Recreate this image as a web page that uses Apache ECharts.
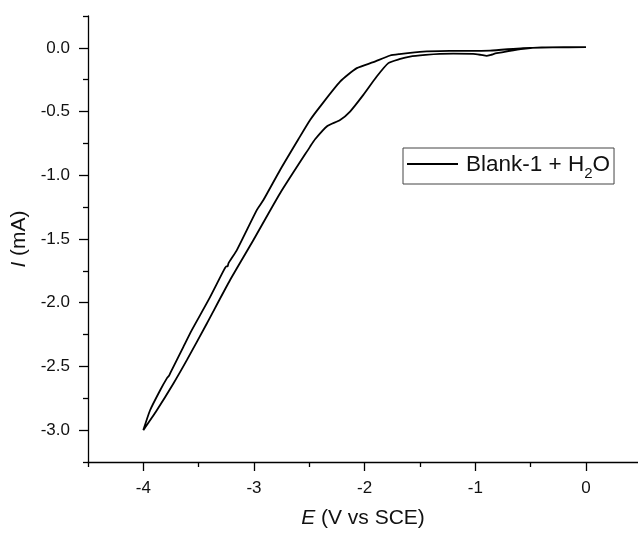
<!DOCTYPE html>
<html>
<head>
<meta charset="utf-8">
<script src="https://cdn.jsdelivr.net/npm/echarts@6/dist/echarts.min.js"></script>
<style>
  html, body { margin: 0; padding: 0; background: #fff; }
  #chart { width: 638px; height: 534px; }
</style>
</head>
<body>
<div id="chart"></div>
<script>
// forward sweep 0 -> -4 V (the branch with the shoulder near -2.3 V)
const FWD_E = [0, -0.2, -0.4, -0.566, -0.7, -0.807, -0.86, -0.897, -0.95, -1.02, -1.2, -1.319, -1.45, -1.59, -1.687, -1.786,
  -1.891, -2.012, -2.132, -2.222, -2.337, -2.448, -2.493, -2.764, -3.005, -3.216, -3.426, -3.607, -3.728, -3.878, -4.0];
const FWD_I = [0.005, 0.005, 0.003, -0.008, -0.025, -0.042, -0.055, -0.063, -0.055, -0.047, -0.046, -0.047, -0.055, -0.068, -0.089, -0.12,
  -0.225, -0.369, -0.5, -0.566, -0.613, -0.717, -0.775, -1.141, -1.508, -1.822, -2.163, -2.451, -2.634, -2.844, -3.0];

// return sweep -4 -> 0 V (noisy branch)
const REV_E = [-4.0, -3.939, -3.848, -3.785, -3.77, -3.758, -3.638, -3.562, -3.412, -3.27, -3.25, -3.238, -3.231, -3.155,
  -2.975, -2.915, -2.764, -2.599, -2.493, -2.403, -2.222, -2.071, -1.921, -1.77, -1.687, -1.47, -1.2, -0.867, -0.569, -0.3, 0];
const REV_I = [-3.0, -2.844, -2.687, -2.59, -2.575, -2.555, -2.346, -2.215, -1.98, -1.74, -1.715, -1.715, -1.691, -1.587,
  -1.273, -1.194, -0.958, -0.717, -0.566, -0.461, -0.265, -0.159, -0.112, -0.06, -0.049, -0.029, -0.024, -0.021, -0.002, 0.003, 0.005];

const X_MIN = -4.5, X_MAX = 0.47;
const Y_MIN = -3.25, Y_MAX = 0.25;
const X_MAJOR = [-4, -3, -2, -1, 0];
const X_MINOR = [-4.5, -3.5, -2.5, -1.5, -0.5];
const Y_MAJOR = [-3, -2.5, -2, -1.5, -1, -0.5, 0];
const Y_MINOR = [-3.25, -2.75, -2.25, -1.75, -1.25, -0.75, -0.25, 0.25];

const SERIES_NAME = 'Blank-1 + H2O';

const FONT = '"Liberation Sans", Arial, sans-serif';
const INK = '#000';
const TXT = '#111';

const W = 638, H = 534;
const GRID = { left: 88, top: 16, right: 0, bottom: 72 };
const PLOT_W = W - GRID.left - GRID.right;
const PLOT_H = H - GRID.top - GRID.bottom;
const MAJOR_LEN = 9;

const cvData = [];
FWD_E.forEach((e, i) => cvData.push([e, FWD_I[i]]));
REV_E.forEach((e, i) => cvData.push([e, REV_I[i]]));

const isOn = (v, list) => list.some(m => Math.abs(m - v) < 1e-6);

// pixel of an axis value in the main grid (to place the helper grids for major ticks)
const xPx = v => GRID.left + (v - X_MIN) / (X_MAX - X_MIN) * PLOT_W;
const yPx = v => GRID.top + (Y_MAX - v) / (Y_MAX - Y_MIN) * PLOT_H;
const xLo = X_MAJOR[0], xHi = X_MAJOR[X_MAJOR.length - 1];
const yLo = Y_MAJOR[0], yHi = Y_MAJOR[Y_MAJOR.length - 1];

const chart = echarts.init(document.getElementById('chart'), null, { renderer: 'canvas' });

const ls = () => ({ color: INK, width: 1.3 });
const labelStyle = () => ({ color: TXT, fontSize: 17, fontFamily: FONT });
const nameStyle = () => ({
  color: TXT, fontSize: 21, fontFamily: FONT,
  rich: { i: { fontStyle: 'italic', fontSize: 21, fontFamily: FONT, color: TXT } }
});

// minor ticks: axis on the opposite side, shifted back onto the main axis line,
// inward ticks so they point out of the plot
function minorAxis(min, max, pos, shift, values) {
  return {
    type: 'value', min, max, position: pos, offset: -shift,
    axisLine: { show: false, onZero: false },
    axisTick: { show: true, inside: true, length: 5, lineStyle: ls(), customValues: values },
    axisLabel: { show: false },
    splitLine: { show: false }
  };
}

// major ticks: split lines of a thin strip grid sitting just outside the axis line
function stripAxis(gridIndex, min, max, interval) {
  return {
    type: 'value', gridIndex, min, max, interval,
    axisLine: { show: false, onZero: false },
    axisTick: { show: false },
    axisLabel: { show: false },
    splitLine: { show: true, showMinLine: true, showMaxLine: true, lineStyle: ls() }
  };
}
const hiddenAxis = gridIndex => ({ type: 'value', gridIndex, show: false, min: 0, max: 1 });

const plainGrid = g => Object.assign({ containLabel: false, outerBoundsMode: 'none' }, g);

chart.setOption({
  backgroundColor: '#fff',
  animation: false,
  grid: [
    plainGrid(GRID),
    // strip under the x axis, from the first to the last major value
    plainGrid({ left: xPx(xLo), right: W - xPx(xHi), top: H - GRID.bottom, bottom: GRID.bottom - MAJOR_LEN }),
    // strip left of the y axis
    plainGrid({ left: GRID.left - MAJOR_LEN, right: W - GRID.left, top: yPx(yHi), bottom: H - yPx(yLo) })
  ],
  legend: {
    left: 403, top: 148,
    padding: [5, 4, 3, 4],
    borderColor: '#444', borderWidth: 1,
    itemWidth: 51, itemHeight: 2,
    icon: 'rect',
    formatter: () => '{t|Blank-1 + H}{sub|2}{t|O}',
    textStyle: {
      color: TXT, fontSize: 22, fontFamily: FONT, padding: [0, 0, 0, 3],
      rich: {
        t: { fontSize: 22.5, fontFamily: FONT, color: TXT, lineHeight: 22, verticalAlign: 'top' },
        sub: { fontSize: 15, fontFamily: FONT, color: TXT, lineHeight: 15, verticalAlign: 'top', padding: [13, 0, 0, 0] }
      }
    },
    data: [SERIES_NAME]
  },
  xAxis: [{
    type: 'value', gridIndex: 0, min: X_MIN, max: X_MAX, interval: 0.5, position: 'bottom',
    name: '{i|E} (V vs SCE)', nameLocation: 'middle', nameGap: 46, nameTextStyle: nameStyle(),
    axisLine: { show: true, onZero: false, lineStyle: ls() },
    axisTick: { show: false },
    axisLabel: Object.assign({ margin: 18, formatter: v => (isOn(v, X_MAJOR) ? String(Math.round(v)) : '') }, labelStyle()),
    splitLine: { show: false }
  },
  minorAxis(X_MIN, X_MAX, 'top', PLOT_H, X_MINOR),
  stripAxis(1, xLo, xHi, 1),
  hiddenAxis(2)],
  yAxis: [{
    type: 'value', gridIndex: 0, min: Y_MIN, max: Y_MAX, interval: 0.25, position: 'left',
    name: '{i|I} (mA)', nameLocation: 'middle', nameGap: 55, nameRotate: 90, nameTextStyle: nameStyle(),
    axisLine: { show: true, onZero: false, lineStyle: ls() },
    axisTick: { show: false },
    axisLabel: Object.assign({ margin: 18, formatter: v => (isOn(v, Y_MAJOR) ? v.toFixed(1) : '') }, labelStyle()),
    splitLine: { show: false }
  },
  minorAxis(Y_MIN, Y_MAX, 'right', PLOT_W, Y_MINOR),
  hiddenAxis(1),
  stripAxis(2, yLo, yHi, 0.5)],
  series: [{
    name: SERIES_NAME,
    type: 'line',
    xAxisIndex: 0, yAxisIndex: 0,
    data: cvData,
    smooth: 0.2,
    symbol: 'none',
    lineStyle: { color: INK, width: 1.8 },
    itemStyle: { color: INK }
  }]
});
</script>
</body>
</html>
